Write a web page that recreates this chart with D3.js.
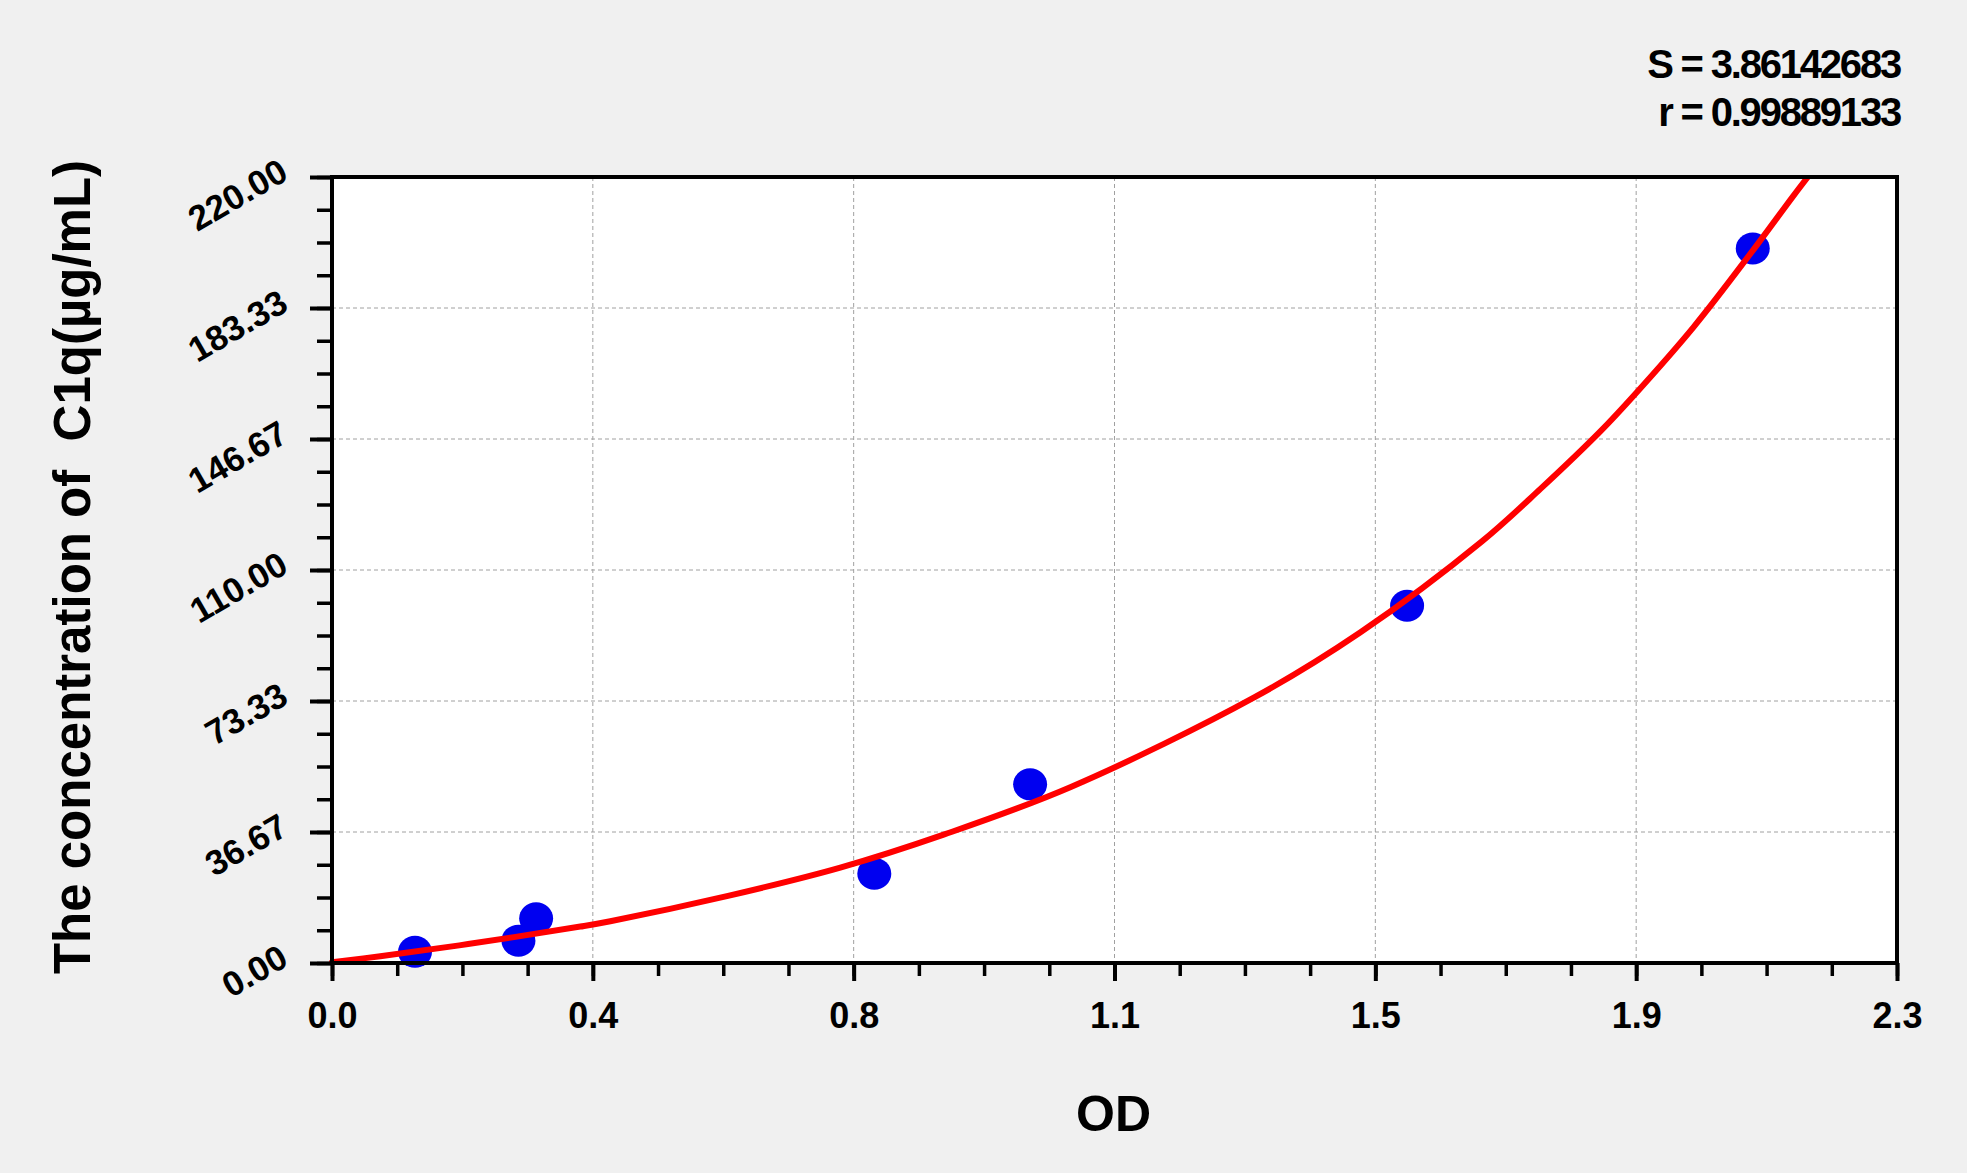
<!DOCTYPE html>
<html>
<head>
<meta charset="utf-8">
<script src="https://cdn.jsdelivr.net/npm/d3@7"></script>
<style>
    html, body { margin: 0; padding: 0; background: #f0f0f0; }
    svg { display: block; font-family: Arial, "Liberation Sans", sans-serif; }
    .tick text { font-weight: bold; fill: #000; }
    .grid line { stroke: #a0a0a0; stroke-width: 1; stroke-dasharray: 4,3; }
</style>
</head>
<body>
<svg id="plate"></svg>
<script>
// standards
var odValues = [0.122, 0.274, 0.300, 0.797, 1.026, 1.580, 2.088];
var concValues = [3.13, 6.25, 12.5, 25, 50, 100, 200];

// fitted curve
var curveOD = [0, 0.071, 0.200, 0.365, 0.409, 0.582, 0.747, 0.900, 1.085, 1.356, 1.511, 1.690, 1.776, 1.864, 1.914, 2.001, 2.088, 2.148, 2.173];
var curveConc = [0.2, 1.9, 5.3, 10.2, 11.7, 18.8, 26.7, 36.0, 49.2, 74.4, 92.5, 118.0, 132.7, 148.8, 159.0, 178.0, 199.4, 214.8, 221];

// axis ticks
var xTicks = [0, 2.3 / 6, 2.3 / 3, 1.15, 2.3 * 2 / 3, 2.3 * 5 / 6, 2.3];
var xTickLabels = ['0.0', '0.4', '0.8', '1.1', '1.5', '1.9', '2.3'];
var yTicks = [0, 220 / 6, 220 / 3, 110, 440 / 3, 550 / 3, 220];
var yTickLabels = ['0.00', '36.67', '73.33', '110.00', '146.67', '183.33', '220.00'];

var fitText = ['S = 3.86142683', 'r = 0.99889133'];

var svgWidth = 1967;
var svgHeight = 1173;
var margin = {top: 177, right: 70, bottom: 210, left: 332};
var width = svgWidth - margin.left - margin.right;
var height = svgHeight - margin.top - margin.bottom;

var x = d3.scaleLinear().domain([0, 2.3]).range([0, width]);
var y = d3.scaleLinear().domain([0, 220]).range([height, 0]);

// minor ticks: 4 steps between majors
var xMinor = d3.range(0, 25).map((i) => 2.3 * i / 24);
var yMinor = d3.range(0, 25).map((i) => 220 * i / 24);

var root = d3.select('#plate')
    .attr('width', svgWidth)
    .attr('height', svgHeight);

var svg = root.append('g')
    .attr('transform', 'translate(' + margin.left + ',' + margin.top + ')');

// plot background
svg.append('rect')
    .attr('width', width)
    .attr('height', height)
    .attr('fill', '#fff');

// grid
svg.append('g')
    .attr('class', 'grid')
    .selectAll('line')
    .data(xTicks.slice(1, -1))
    .join('line')
    .attr('x1', (d) => x(d))
    .attr('x2', (d) => x(d))
    .attr('y1', 0)
    .attr('y2', height);

svg.append('g')
    .attr('class', 'grid')
    .selectAll('line')
    .data(yTicks.slice(1, -1))
    .join('line')
    .attr('y1', (d) => y(d))
    .attr('y2', (d) => y(d))
    .attr('x1', 0)
    .attr('x2', width);

svg.append('defs').append('clipPath')
    .attr('id', 'clip')
    .append('rect')
    .attr('x', -10)
    .attr('y', 0)
    .attr('width', width + 10)
    .attr('height', height + 10);

// standards
svg.append('g')
    .selectAll('ellipse')
    .data(odValues.map((d, i) => ({od: d, conc: concValues[i]})))
    .join('ellipse')
    .attr('cx', (d) => x(d.od))
    .attr('cy', (d) => y(d.conc))
    .attr('rx', 17)
    .attr('ry', 16)
    .attr('fill', '#0000f0');

// fit line
var fitLine = d3.line()
    .x((d) => x(d.od))
    .y((d) => y(d.conc))
    .curve(d3.curveCatmullRom.alpha(0.5));

svg.append('path')
    .datum(curveOD.map((d, i) => ({od: d, conc: curveConc[i]})))
    .attr('clip-path', 'url(#clip)')
    .attr('fill', 'none')
    .attr('stroke', '#f00')
    .attr('stroke-width', 6)
    .attr('stroke-linecap', 'round')
    .attr('d', fitLine);

// frame
svg.append('rect')
    .attr('width', width)
    .attr('height', height)
    .attr('fill', 'none')
    .attr('stroke', '#000')
    .attr('stroke-width', 4);

// minor ticks
svg.append('g')
    .attr('transform', 'translate(0,' + height + ')')
    .call(d3.axisBottom(x).tickValues(xMinor).tickSize(13).tickFormat(''))
    .call((g) => g.select('.domain').remove())
    .selectAll('line').attr('stroke-width', 3.5);

svg.append('g')
    .call(d3.axisLeft(y).tickValues(yMinor).tickSize(15).tickFormat(''))
    .call((g) => g.select('.domain').remove())
    .selectAll('line').attr('stroke-width', 3.5);

// x axis
var xAxis = svg.append('g')
    .attr('transform', 'translate(0,' + height + ')')
    .call(d3.axisBottom(x).tickValues(xTicks).tickSize(18)
        .tickFormat((d, i) => xTickLabels[i]));
xAxis.select('.domain').remove();
xAxis.selectAll('line').attr('stroke-width', 4);
xAxis.selectAll('text')
    .attr('font-size', 36)
    .attr('y', 0)
    .attr('dy', 0)
    .attr('transform', 'translate(0,65)');

// y axis
var yAxis = svg.append('g')
    .call(d3.axisLeft(y).tickValues(yTicks).tickSize(22)
        .tickFormat((d, i) => yTickLabels[i]));
yAxis.select('.domain').remove();
yAxis.selectAll('line').attr('stroke-width', 4);
yAxis.selectAll('text')
    .attr('font-size', 35)
    .attr('x', 0)
    .attr('dy', 0)
    .attr('text-anchor', 'end')
    .attr('transform', 'translate(-42,1) rotate(-30)');

// axis titles
root.append('text')
    .attr('x', margin.left + x(1.15) - 1)
    .attr('y', 1131)
    .attr('text-anchor', 'middle')
    .attr('font-size', 50)
    .attr('font-weight', 'bold')
    .text('OD');

root.append('text')
    .attr('transform', 'translate(90,567) rotate(-90)')
    .attr('text-anchor', 'middle')
    .attr('font-size', 51)
    .attr('font-weight', 'bold')
    .style('white-space', 'pre')
    .text('The concentration of  C1q(\u00b5g/mL)');

// fit statistics
root.append('g')
    .selectAll('text')
    .data(fitText)
    .join('text')
    .attr('x', 1900)
    .attr('y', (d, i) => 78 + i * 48)
    .attr('text-anchor', 'end')
    .attr('font-size', 40)
    .attr('font-weight', 'bold')
    .attr('letter-spacing', -2.2)
    .style('white-space', 'pre')
    .text((d) => d);
</script>
</body>
</html>
